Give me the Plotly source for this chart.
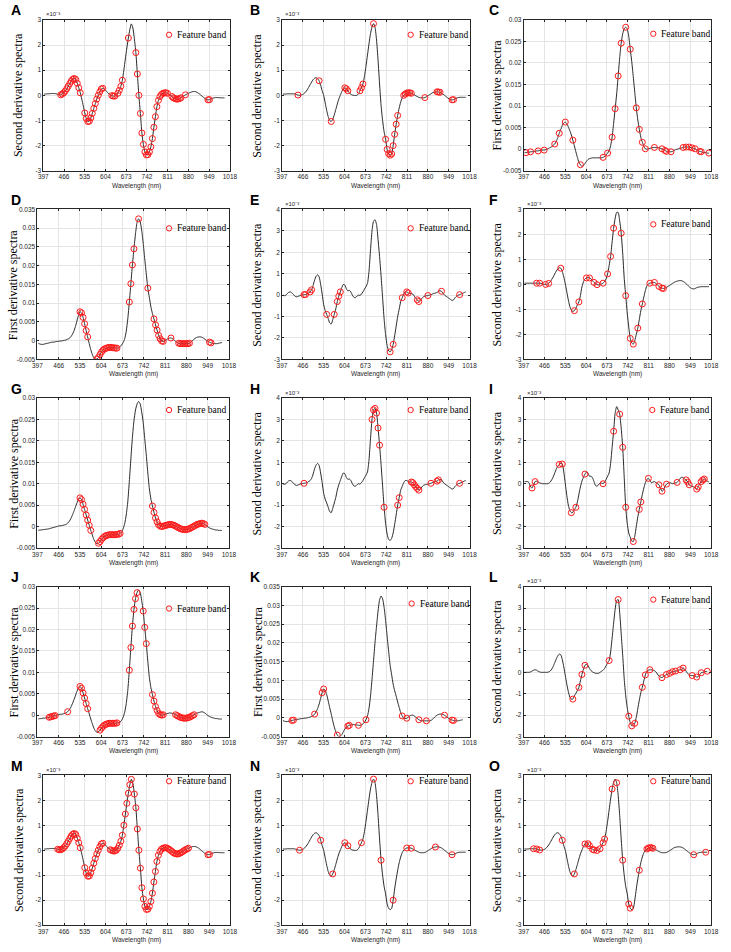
import plotly.graph_objects as go

# band centres (nm) shared by all spectra
wl = list(range(400, 1011, 5))

# second derivative spectra (x10^-3)
sd_a = [0.05, 0.05, 0.06, 0.06, 0.07, 0.07, 0.07, 0.07, 0.06, 0.04,
        0.02, 0.02, 0.05, 0.1, 0.17, 0.26, 0.36, 0.47, 0.57, 0.64,
        0.67, 0.63, 0.48, 0.3, 0.1, -0.15, -0.42, -0.7, -0.92, -1.04,
        -1.03, -0.9, -0.72, -0.52, -0.33, -0.15, 0.0, 0.14, 0.25, 0.28,
        0.25, 0.19, 0.12, 0.06, 0.02, -0.01, -0.03, -0.03, 0.0, 0.08,
        0.2, 0.36, 0.6, 1.0, 1.45, 1.88, 2.28, 2.62, 2.84, 2.68,
        2.25, 1.7, 0.85, 0.0, -0.72, -1.5, -1.95, -2.25, -2.37, -2.36,
        -2.25, -2.05, -1.72, -1.27, -0.85, -0.45, -0.2, -0.05, 0.04, 0.08,
        0.1, 0.1, 0.08, 0.04, 0.0, -0.05, -0.1, -0.13, -0.15, -0.15,
        -0.13, -0.1, -0.06, -0.02, 0.02, 0.05, 0.08, 0.11, 0.13, 0.15,
        0.15, 0.14, 0.11, 0.07, 0.02, -0.03, -0.08, -0.13, -0.16, -0.18,
        -0.17, -0.15, -0.12, -0.1, -0.09, -0.09, -0.09, -0.1, -0.1, -0.1,
        -0.1, None, None]

sd_b = [0.05, 0.05, 0.05, 0.06, 0.06, 0.06, 0.06, 0.06, 0.05, 0.03,
        0.01, 0.0, 0.01, 0.03, 0.07, 0.13, 0.21, 0.31, 0.42, 0.53,
        0.62, 0.68, 0.7, 0.66, 0.58, 0.4, 0.18, 0.0, -0.3, -0.6,
        -0.85, -1.0, -1.04, -0.95, -0.78, -0.57, -0.35, -0.15, 0.0, 0.15,
        0.25, 0.3, 0.26, 0.18, 0.1, 0.04, 0.01, 0.0, -0.01, 0.0,
        0.06, 0.18, 0.3, 0.45, 0.75, 1.15, 1.6, 2.05, 2.45, 2.72,
        2.85, 2.7, 2.2, 1.4, 0.45, -0.4, -1.0, -1.45, -1.75, -2.15,
        -2.32, -2.38, -2.33, -2.0, -1.55, -1.15, -0.8, -0.5, -0.27, -0.1,
        0.0, 0.05, 0.09, 0.1, 0.1, 0.08, 0.05, 0.02, -0.02, -0.05,
        -0.08, -0.1, -0.1, -0.1, -0.09, -0.06, -0.02, 0.02, 0.06, 0.1,
        0.12, 0.13, 0.14, 0.13, 0.12, 0.09, 0.05, 0.0, -0.05, -0.1,
        -0.14, -0.17, -0.18, -0.17, -0.14, -0.11, -0.09, -0.08, -0.08, -0.08,
        -0.08, -0.08, None]

sd_f = [0.05, 0.05, 0.05, 0.05, 0.05, 0.05, 0.05, 0.05, 0.05, 0.05,
        0.05, 0.04, 0.02, 0.0, 0.0, 0.01, 0.04, 0.1, 0.2, 0.3,
        0.42, 0.53, 0.62, 0.67, 0.65, 0.52, 0.3, 0.02, -0.3, -0.62,
        -0.88, -1.03, -1.08, -1.05, -0.95, -0.82, -0.7, -0.45, -0.1, 0.1,
        0.22, 0.26, 0.27, 0.26, 0.22, 0.15, 0.08, 0.03, -0.01, -0.02,
        -0.01, 0.02, 0.05, 0.12, 0.22, 0.42, 0.75, 1.12, 1.7, 2.25,
        2.65, 2.88, 2.88, 2.55, 2.05, 1.25, 0.25, -0.45, -1.15, -1.7,
        -2.16, -2.35, -2.39, -2.25, -2.0, -1.75, -1.4, -1.05, -0.78, -0.5,
        -0.25, -0.05, 0.02, 0.05, 0.07, 0.08, 0.08, 0.04, -0.02, -0.08,
        -0.13, -0.15, -0.16, -0.15, -0.12, -0.08, -0.04, 0.0, 0.04, 0.08,
        0.11, 0.13, 0.15, 0.15, 0.15, 0.12, 0.08, 0.03, -0.03, -0.09,
        -0.14, -0.17, -0.18, -0.16, -0.13, -0.11, -0.1, -0.09, -0.09, -0.09,
        -0.09, -0.09, -0.09]

sd_c = [0.0, -0.03, 0.0, 0.08, 0.14, 0.15, 0.1, 0.03, -0.05, -0.08,
        -0.06, -0.03, 0.0, 0.01, 0.02, 0.03, 0.05, 0.1, 0.15, 0.25,
        0.45, 0.7, 0.88, 0.95, 0.85, 0.5, 0.05, -0.45, -0.72, -0.9,
        -1.1, -1.3, -1.35, -1.15, -0.9, -0.65, -0.3, -0.05, 0.15, 0.35,
        0.5, 0.47, 0.3, 0.2, 0.22, 0.15, 0.0, -0.1, -0.12, -0.05,
        0.0, -0.02, 0.05, 0.15, 0.28, 0.4, 0.55, 1.1, 2.1, 3.0,
        3.45, 3.52, 3.3, 2.6, 1.8, 0.9, -0.1, -1.1, -1.85, -2.35,
        -2.6, -2.65, -2.55, -2.3, -1.9, -1.45, -1.0, -0.65, -0.3, -0.12,
        0.05, 0.15, 0.15, 0.1, 0.08, 0.08, 0.05, -0.05, -0.15, -0.22,
        -0.3, -0.25, -0.15, -0.08, -0.05, -0.03, -0.02, 0.0, 0.02, 0.05,
        0.08, 0.1, 0.12, 0.18, 0.2, 0.18, 0.08, 0.0, -0.05, -0.1,
        -0.15, -0.2, -0.25, -0.22, -0.12, -0.05, 0.0, 0.02, 0.05, 0.08,
        0.12, 0.15, None]

sd_d = [0.1, 0.1, 0.1, 0.05, -0.15, -0.2, -0.05, 0.1, 0.12, 0.08,
        0.04, 0.02, 0.0, 0.0, 0.0, 0.0, 0.02, 0.08, 0.18, 0.32,
        0.5, 0.68, 0.82, 0.9, 0.95, 0.92, 0.55, 0.0, -0.55, -1.0,
        -1.25, -1.35, -1.33, -1.22, -1.1, -0.85, -0.5, -0.15, 0.12, 0.3,
        0.45, 0.55, 0.5, 0.35, 0.35, 0.28, 0.1, -0.08, -0.12, -0.05,
        0.03, 0.03, 0.0, 0.08, 0.2, 0.35, 0.5, 0.95, 1.7, 2.45,
        3.3, 3.6, 3.45, 3.25, 2.6, 1.7, 0.3, -1.1, -1.85, -2.3,
        -2.5, -2.68, -2.7, -2.45, -2.0, -1.55, -1.2, -0.85, -0.5, -0.2,
        0.05, 0.2, 0.25, 0.15, 0.05, 0.08, 0.1, 0.05, 0.0, -0.05,
        -0.2, -0.35, -0.3, -0.12, -0.02, 0.03, 0.05, 0.03, 0.0, 0.02,
        0.04, 0.06, 0.15, 0.25, 0.3, 0.28, 0.22, 0.18, 0.08, -0.05,
        -0.1, -0.12, -0.15, -0.2, -0.25, -0.15, 0.0, 0.1, 0.18, 0.22,
        0.18, 0.12, 0.08]

sd_e = [0.0, 0.0, 0.0, 0.0, 0.02, 0.06, 0.1, 0.12, 0.1, 0.05,
        0.02, 0.0, 0.0, 0.0, 0.0, 0.0, 0.02, 0.06, 0.15, 0.28,
        0.45, 0.62, 0.77, 0.85, 0.82, 0.6, 0.25, -0.15, -0.55, -0.9,
        -1.15, -1.25, -1.25, -1.1, -0.98, -0.85, -0.7, -0.4, -0.1, 0.15,
        0.33, 0.38, 0.3, 0.18, 0.08, 0.02, -0.02, -0.04, -0.05, -0.04,
        0.0, 0.05, 0.1, 0.18, 0.3, 0.45, 0.55, 0.95, 1.6, 2.3,
        2.95, 3.35, 3.4, 2.8, 1.8, 0.8, -0.3, -1.1, -1.65, -2.05,
        -2.35, -2.5, -2.48, -2.38, -2.1, -1.7, -1.3, -0.95, -0.7, -0.4,
        -0.12, 0.05, 0.1, 0.12, 0.12, 0.1, 0.08, 0.02, -0.08, -0.18,
        -0.22, -0.25, -0.2, -0.14, -0.1, -0.08, -0.05, 0.0, 0.03, 0.05,
        0.06, 0.07, 0.1, 0.12, 0.15, 0.2, 0.15, 0.05, -0.05, -0.12,
        -0.15, -0.15, -0.15, -0.18, -0.22, -0.2, -0.1, -0.02, 0.0, 0.02,
        0.04, 0.05, None]

# first derivative spectra
fd_a = [-0.0008, -0.0008, -0.0007, -0.0007, -0.0006, -0.0006, -0.0005, -0.0005, -0.0004, -0.0004,
        -0.0003, -0.0003, -0.0002, -0.0002, -0.0001, 0.0, 0.0002, 0.0004, 0.0006, 0.0009,
        0.0012, 0.0018, 0.0027, 0.0037, 0.0046, 0.0055, 0.0061, 0.0063, 0.0059, 0.0052,
        0.0043, 0.0033, 0.0021, 0.0008, -0.0006, -0.0019, -0.003, -0.0036, -0.004, -0.0038,
        -0.0033, -0.0028, -0.0024, -0.0022, -0.0021, -0.002, -0.002, -0.002, -0.002, -0.002,
        -0.002, -0.002, -0.0019, -0.0017, -0.0013, -0.0009, -0.0004, 0.0008, 0.0028, 0.006,
        0.0094, 0.0128, 0.017, 0.0212, 0.0246, 0.0268, 0.0279, 0.0283, 0.0279, 0.0262,
        0.0232, 0.0203, 0.0168, 0.0132, 0.0096, 0.0068, 0.0046, 0.0028, 0.0016, 0.0007,
        0.0001, 0.0, 0.0001, 0.0002, 0.0003, 0.0004, 0.0004, 0.0004, 0.0004, 0.0003,
        0.0002, 0.0001, -0.0001, -0.0003, -0.0005, -0.0006, -0.0006, -0.0006, -0.0005, -0.0003,
        -0.0001, 0.0, 0.0001, 0.0002, 0.0003, 0.0004, 0.0005, 0.0005, 0.0005, 0.0005,
        0.0004, 0.0003, 0.0002, 0.0001, -0.0002, -0.0004, -0.0005, -0.0006, -0.0007, -0.0008,
        -0.0008, -0.0009, -0.0009]

fd_b = [-0.0009, -0.0008, -0.0008, -0.0007, -0.0007, -0.0006, -0.0006, -0.0005, -0.0004, -0.0003,
        -0.0002, -0.0001, 0.0, 0.0001, 0.0002, 0.0002, 0.0003, 0.0004, 0.0005, 0.0008,
        0.0012, 0.0018, 0.0026, 0.0035, 0.0045, 0.0055, 0.0063, 0.0067, 0.0063, 0.0052,
        0.004, 0.0027, 0.0015, 0.0003, -0.0009, -0.002, -0.003, -0.0037, -0.004, -0.0039,
        -0.0035, -0.003, -0.0026, -0.0023, -0.0021, -0.002, -0.0019, -0.0019, -0.0019, -0.0019,
        -0.0019, -0.0018, -0.0018, -0.0016, -0.0012, -0.0005, 0.0007, 0.0027, 0.0058, 0.0105,
        0.0158, 0.0208, 0.0247, 0.0272, 0.0286, 0.0292, 0.0287, 0.0268, 0.0243, 0.0205,
        0.0167, 0.0125, 0.0088, 0.0064, 0.0048, 0.0033, 0.002, 0.0011, 0.0004, 0.0001,
        0.0, 0.0001, 0.0002, 0.0003, 0.0004, 0.0005, 0.0005, 0.0004, 0.0003, 0.0001,
        -0.0001, -0.0003, -0.0005, -0.0006, -0.0007, -0.0007, -0.0007, -0.0006, -0.0005, -0.0003,
        -0.0001, 0.0001, 0.0003, 0.0005, 0.0006, 0.0007, 0.0008, 0.0007, 0.0005, 0.0002,
        -0.0001, -0.0003, -0.0005, -0.0006, -0.0007, -0.0008, -0.0008, -0.0009, -0.0009, -0.0009,
        None, None, None]

fd_c = [-0.0007, -0.0009, -0.001, -0.001, -0.0009, -0.0008, -0.0007, -0.0006, -0.0005, -0.0004,
        -0.0004, -0.0003, -0.0002, -0.0002, -0.0001, -0.0001, 0.0, 0.0001, 0.0002, 0.0004,
        0.0006, 0.001, 0.0016, 0.0025, 0.0037, 0.0052, 0.0067, 0.0077, 0.0074, 0.0062,
        0.0045, 0.0027, 0.001, -0.0008, -0.0024, -0.0037, -0.0046, -0.005, -0.0049, -0.0045,
        -0.0037, -0.003, -0.0025, -0.0022, -0.002, -0.0019, -0.0018, -0.0018, -0.0019, -0.0019,
        -0.002, -0.002, -0.0019, -0.0016, -0.0012, -0.0005, 0.0005, 0.0025, 0.0058, 0.0103,
        0.0152, 0.0202, 0.0245, 0.0285, 0.0315, 0.0325, 0.0318, 0.0295, 0.026, 0.0218,
        0.0178, 0.014, 0.0115, 0.009, 0.0072, 0.0058, 0.0042, 0.0028, 0.0014, 0.0005,
        -0.0001, -0.0002, -0.0001, 0.0002, 0.0005, 0.0007, 0.0007, 0.0005, 0.0002, -0.0002,
        -0.0005, -0.0007, -0.0008, -0.0008, -0.0008, -0.0008, -0.0008, -0.0008, -0.0007, -0.0004,
        0.0, 0.0004, 0.0007, 0.0009, 0.001, 0.001, 0.0009, 0.0007, 0.0004, 0.0001,
        -0.0002, -0.0004, -0.0006, -0.0007, -0.0008, -0.0008, -0.0008, -0.0007, -0.0006, -0.0005,
        None, None, None]

# selected feature bands (nm) per panel
A_bands = [455, 460, 465, 470, 475, 480, 485, 490, 495, 500, 505, 510, 515, 520,
           535, 540, 545, 550, 555, 560, 565, 570, 575, 580, 585, 590, 595,
           625, 630, 635, 645, 650, 655, 660, 680,
           705, 710, 715, 720, 725, 730, 735, 740, 745, 750, 755, 760, 765, 770,
           775, 780, 785, 790, 795, 800, 805, 810,
           825, 830, 835, 840, 845, 850, 855, 870, 945, 950]
B_bands = [450, 520, 560, 605, 610, 615, 655, 660, 665, 700,
           740, 745, 750, 755, 760, 765, 770, 775, 780,
           800, 805, 810, 815, 820, 825, 870, 910, 915, 920, 960, 965]
C_bands = [405, 420, 445, 465, 500, 515, 535, 560, 585, 660, 675, 690, 700, 710,
           720, 735, 750, 770, 780, 790, 800, 830, 855, 865, 870, 885,
           925, 935, 945, 955, 965, 980, 985, 1010]
D_bands = [535, 540, 545, 550, 555, 560,
           590, 595, 600, 605, 610, 615, 620, 625, 630, 635, 640, 645, 650, 655,
           695, 700, 705, 710, 725, 755, 775, 780, 785, 790, 795, 800, 805, 830,
           855, 860, 865, 870, 875, 880, 885, 890, 955, 960]
E_bands = [470, 475, 490, 495, 545, 570, 580, 585, 590, 755, 765, 795,
           810, 815, 845, 850, 880, 925, 985]
F_bands = [440, 450, 470, 480, 520, 565, 580, 605, 615, 630, 640, 660, 675,
           685, 695, 720, 735, 750, 760, 775, 790, 815, 830, 845, 855, 860]
G_bands = [535, 540, 545, 550, 555, 560, 565, 570,
           595, 600, 605, 610, 615, 620, 625, 630, 635, 640, 645, 650, 655, 660, 665,
           770, 775, 780, 785, 790, 795, 800, 805, 810, 815, 820, 825, 830, 835,
           840, 845, 850, 855, 860, 865, 870, 875, 880, 885, 890, 895, 900, 905,
           910, 915, 920, 925, 930, 935, 940]
H_bands = [470, 695, 700, 705, 710, 715, 720, 735, 780, 785,
           825, 830, 835, 840, 845, 850, 890, 910, 915, 985]
I_bands = [425, 435, 515, 525, 555, 570, 600, 660, 695, 715, 725, 735, 760,
           780, 785, 810, 845, 855, 870, 905, 935, 940, 945, 970, 975, 985, 990, 995]
J_bands = [435, 440, 445, 450, 455, 495, 535, 540, 545, 550, 555, 560,
           600, 605, 610, 615, 620, 625, 630, 635, 640, 645, 650, 655,
           695, 700, 705, 710, 715, 720, 740, 745, 750,
           770, 775, 780, 785, 790, 795, 800, 805,
           845, 850, 855, 860, 865, 870, 875, 880, 885, 890, 895, 900, 905]
K_bands = [430, 435, 505, 530, 535, 580, 615, 620, 650, 675, 795, 810,
           850, 875, 935, 960, 965]
L_bands = [560, 580, 590, 600, 680, 710, 745, 755, 765, 790, 800, 815,
           855, 870, 880, 890, 900, 915, 925, 955, 970, 985, 1005]
M_bands = [445, 450, 455, 460, 465, 470, 475, 480, 485, 490, 495, 500, 505, 510, 515, 520,
           535, 540, 545, 550, 555, 560, 565, 570, 575, 580, 585, 590, 595,
           620, 625, 630, 635, 640, 645, 650, 655, 660, 665, 670, 675, 680, 685, 690,
           700, 705, 710, 715, 720, 725, 730, 735, 740, 745, 750, 755, 760, 765, 770,
           775, 780, 785, 790, 795, 800, 805, 810, 815, 820, 825, 830, 835, 840, 845,
           850, 855, 860, 865, 870, 875, 880, 945, 950]
N_bands = [455, 525, 565, 605, 615, 660, 700, 725, 765, 810, 825, 905, 960]
O_bands = [430, 440, 450, 525, 565, 600, 610, 615, 625, 630, 640, 650, 660, 665,
           690, 705, 725, 745, 750, 780, 805, 810, 815, 820, 825, 960, 1000]

# axis ticks
wl_ticks = [397, 466, 535, 604, 673, 742, 811, 880, 949, 1018]
sd3_ticks = [-3, -2, -1, 0, 1, 2, 3]
sd4_ticks = [-3, -2, -1, 0, 1, 2, 3, 4]
fd30_ticks = [-0.005, 0, 0.005, 0.01, 0.015, 0.02, 0.025, 0.03]
fd30_labels = ['-0.005', '0', '0.005', '0.01', '0.015', '0.02', '0.025', '0.03']
fd35_ticks = [-0.005, 0, 0.005, 0.01, 0.015, 0.02, 0.025, 0.03, 0.035]
fd35_labels = ['-0.005', '0', '0.005', '0.01', '0.015', '0.02', '0.025', '0.03', '0.035']

SD = 'Second derivative spectra'
FD = 'First derivative spectra'

# letter, row, col, curve, bands, kind, ticks, labels, legend offset (from right, from top)
panels = [
    ('A', 0, 0, sd_a, A_bands, SD, sd3_ticks, None, 62, 15),
    ('B', 0, 1, sd_b, B_bands, SD, sd3_ticks, None, 60, 15),
    ('C', 0, 2, fd_a, C_bands, FD, fd30_ticks, fd30_labels, 59, 14),
    ('D', 1, 0, fd_c, D_bands, FD, fd35_ticks, fd35_labels, 61, 19),
    ('E', 1, 1, sd_c, E_bands, SD, sd4_ticks, None, 60, 19),
    ('F', 1, 2, sd_f, F_bands, SD, sd3_ticks, None, 59, 15),
    ('G', 2, 0, fd_b, G_bands, FD, fd30_ticks, fd30_labels, 61, 12),
    ('H', 2, 1, sd_c, H_bands, SD, sd4_ticks, None, 60, 12),
    ('I', 2, 2, sd_d, I_bands, SD, sd4_ticks, None, 60, 12),
    ('J', 3, 0, fd_b, J_bands, FD, fd30_ticks, fd30_labels, 61, 22),
    ('K', 3, 1, fd_c, K_bands, FD, fd35_ticks, fd35_labels, 59, 17),
    ('L', 3, 2, sd_e, L_bands, SD, sd4_ticks, None, 59, 13),
    ('M', 4, 0, sd_a, M_bands, SD, sd3_ticks, None, 62, 6),
    ('N', 4, 1, sd_b, N_bands, SD, sd3_ticks, None, 60, 6),
    ('O', 4, 2, sd_b, O_bands, SD, sd3_ticks, None, 59, 6),
]

W, H = 731, 952
row_top = [16, 207, 397, 587, 777]
row_bot = [168, 358, 548, 738, 928]
col_sd = [(39, 229), (282, 473), (528, 719)]
col_fd = [(33, 228), (282, 473), (528, 719)]
ylab_x_sd = [14, 257, 501]
ylab_x_fd = [9, 257, 501]
letter_x = [4, 247, 491]

SANS = 'Liberation Sans, Arial, sans-serif'
SERIF = 'Liberation Serif, Times New Roman, serif'
AX = '#262626'
RED = '#ff1a1a'


def px(x):
    return x / W


def py(y):
    return 1 - y / H


def note(text, x, y, size, family=SANS, color='black', **kw):
    return dict(text=text, x=px(x), y=py(y), xref='paper', yref='paper',
                showarrow=False, font=dict(family=family, size=size, color=color), **kw)


idx = {w: i for i, w in enumerate(wl)}

fig = go.Figure()
annotations = []
shapes = []

for n, (letter, r, c, curve, bands, ylab, yt, ylabels, ldx, ldy) in enumerate(panels, start=1):
    xa = 'x' if n == 1 else 'x%d' % n
    ya = 'y' if n == 1 else 'y%d' % n
    left, right = (col_fd if ylab == FD else col_sd)[c]
    top, bot = row_top[r], row_bot[r]

    fig.add_trace(go.Scatter(
        x=wl, y=curve, mode='lines', xaxis=xa, yaxis=ya,
        line=dict(color='#2a2a2a', width=1, shape='spline', smoothing=0.6),
        showlegend=False, hoverinfo='skip'))
    fig.add_trace(go.Scatter(
        x=bands, y=[curve[idx[b]] for b in bands], mode='markers',
        xaxis=xa, yaxis=ya, name='Feature band', showlegend=False,
        marker=dict(symbol='circle-open', size=6, color=RED,
                    line=dict(width=1, color=RED))))

    axis_common = dict(showline=True, mirror='ticks', linecolor=AX, linewidth=0.8,
                       ticks='inside', ticklen=2, tickcolor=AX,
                       showgrid=True, gridcolor='#e4e4e4', gridwidth=0.8,
                       zeroline=False, ticklabeloverflow='allow',
                       tickfont=dict(family=SANS, size=6.5, color=AX))
    fig.layout['xaxis' if n == 1 else 'xaxis%d' % n] = dict(
        domain=[px(left), px(right)], anchor=ya, range=[397, 1018],
        tickvals=wl_ticks, ticktext=[str(t) for t in wl_ticks], **axis_common)
    fig.layout['yaxis' if n == 1 else 'yaxis%d' % n] = dict(
        domain=[py(bot), py(top)], anchor=xa, range=[yt[0], yt[-1]],
        tickvals=yt, ticktext=ylabels if ylabels else [str(t) for t in yt],
        **axis_common)

    # panel letter
    annotations.append(note('<b>%s</b>' % letter, letter_x[c], top - 9.5, 14,
                            xanchor='left', yanchor='middle'))
    # y title
    annotations.append(note(ylab, (ylab_x_fd if ylab == FD else ylab_x_sd)[c],
                            (top + bot) / 2, 12, family=SERIF, textangle=-90,
                            xanchor='center', yanchor='middle'))
    # x title
    annotations.append(note('Wavelength (nm)', (left + right) / 2, bot + 15, 6.5,
                            color=AX, xanchor='center', yanchor='middle'))
    # exponent for second derivative axes
    if ylab == SD:
        annotations.append(note('\u00d710\u207b\u00b3', left + 1, top - 0.5, 6,
                                color=AX, xanchor='left', yanchor='bottom'))
    # legend
    cx, cy = right - ldx, top + ldy
    shapes.append(dict(type='circle', xref='paper', yref='paper',
                       x0=px(cx - 2.7), x1=px(cx + 2.7), y0=py(cy + 2.7), y1=py(cy - 2.7),
                       line=dict(color=RED, width=1)))
    annotations.append(note('Feature band', cx + 6, cy, 9.5, family=SERIF,
                            xanchor='left', yanchor='middle'))

fig.update_layout(
    width=W, height=H, autosize=False,
    margin=dict(l=0, r=0, t=0, b=0),
    paper_bgcolor='white', plot_bgcolor='white',
    annotations=annotations, shapes=shapes,
    showlegend=False,
)

fig.write_html('out.html', config={'displayModeBar': False},
               post_script="document.body.style.margin='0';")
